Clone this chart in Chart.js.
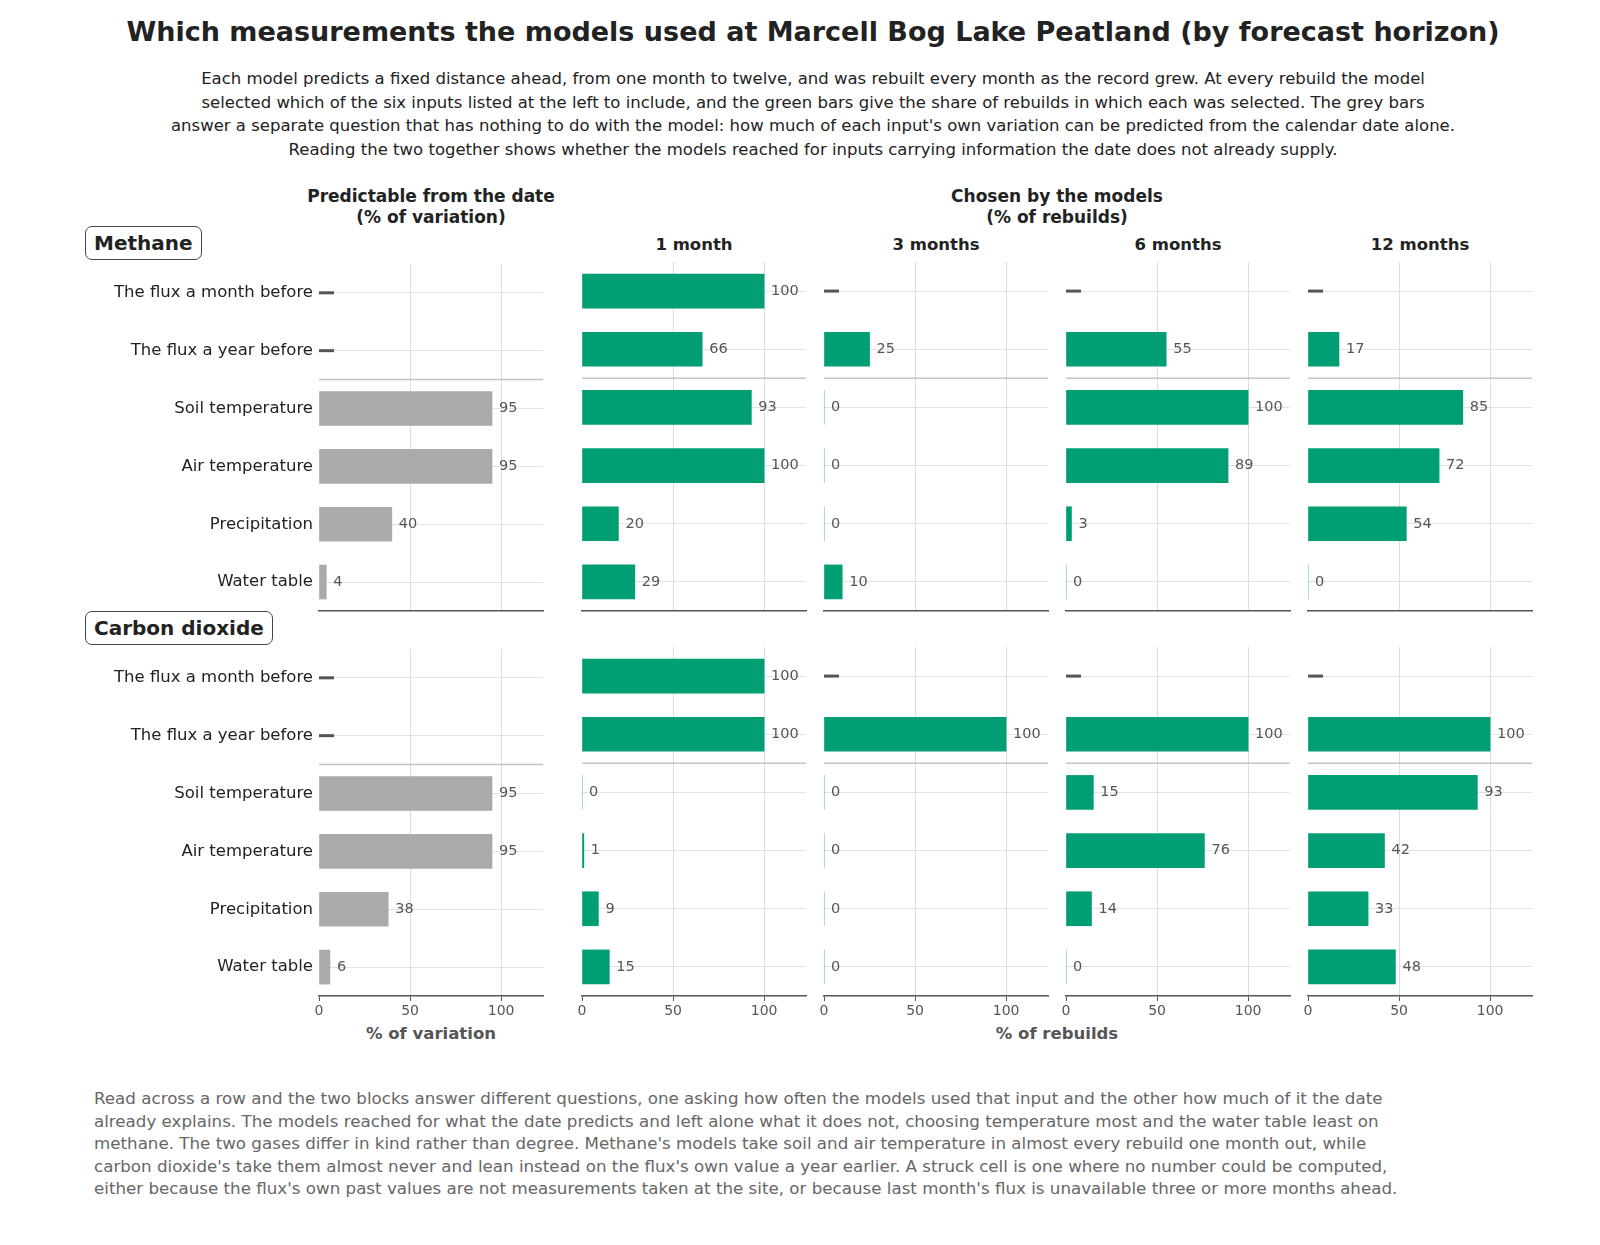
<!DOCTYPE html>
<html>
<head>
<meta charset="utf-8">
<script src="https://cdn.jsdelivr.net/npm/chart.js@4/dist/chart.umd.min.js"></script>
<style>
body { margin:0; width:1600px; height:1245px; background:#fff; font-family:"DejaVu Sans",sans-serif; position:relative; overflow:hidden; }
.abs { position:absolute; }
canvas { position:absolute; }
#title { left:0; width:1626px; top:16px; text-align:center; font-size:27px; font-weight:bold; color:#222; }
#sub { left:170px; width:1286px; top:67px; text-align:center; font-size:16.5px; line-height:23.5px; color:#222; }
.hdr { font-size:17px; font-weight:bold; color:#222; text-align:center; line-height:21px; }
.col { font-size:16.5px; font-weight:bold; color:#222; text-align:center; width:224px; top:235px; }
.box { border:1.5px solid #444; border-radius:7px; font-size:20px; font-weight:bold; color:#222; padding:4px 8px; }
.axt { font-size:16.5px; font-weight:bold; color:#555; text-align:center; top:1024px; }
#foot { left:94px; width:1335px; top:1087px; font-size:16.7px; line-height:22.6px; color:#666; }
</style>
</head>
<body>
<div id="title" class="abs">Which measurements the models used at Marcell Bog Lake Peatland (by forecast horizon)</div>
<div id="sub" class="abs">Each model predicts a fixed distance ahead, from one month to twelve, and was rebuilt every month as the record grew. At every rebuild the model selected which of the six inputs listed at the left to include, and the green bars give the share of rebuilds in which each was selected. The grey bars answer a separate question that has nothing to do with the model: how much of each input's own variation can be predicted from the calendar date alone. Reading the two together shows whether the models reached for inputs carrying information the date does not already supply.</div>
<div class="abs hdr" style="left:281px;width:300px;top:186px">Predictable from the date<br>(% of variation)</div>
<div class="abs hdr" style="left:907px;width:300px;top:186px">Chosen by the models<br>(% of rebuilds)</div>
<div class="abs col" style="left:582px">1 month</div>
<div class="abs col" style="left:824px">3 months</div>
<div class="abs col" style="left:1066px">6 months</div>
<div class="abs col" style="left:1308px">12 months</div>
<div class="abs box" style="left:85px;top:226px">Methane</div>
<div class="abs box" style="left:85px;top:611px">Carbon dioxide</div>
<div class="abs axt" style="left:281px;width:300px">% of variation</div>
<div class="abs axt" style="left:907px;width:300px">% of rebuilds</div>
<div id="foot" class="abs">Read across a row and the two blocks answer different questions, one asking how often the models used that input and the other how much of it the date already explains. The models reached for what the date predicts and left alone what it does not, choosing temperature most and the water table least on methane. The two gases differ in kind rather than degree. Methane's models take soil and air temperature in almost every rebuild one month out, while carbon dioxide's take them almost never and lean instead on the flux's own value a year earlier. A struck cell is one where no number could be computed, either because the flux's own past values are not measurements taken at the site, or because last month's flux is unavailable three or more months ahead.</div>
<script>
// inputs (rows)
const inputs = ['The flux a month before', 'The flux a year before', 'Soil temperature', 'Air temperature', 'Precipitation', 'Water table'];
const xTicks = [0, 50, 100];

// methane
const ch4Date = [null, null, 95, 95, 40, 4];
const ch4M1 = [100, 66, 93, 100, 20, 29];
const ch4M3 = [null, 25, 0, 0, 0, 10];
const ch4M6 = [null, 55, 100, 89, 3, 0];
const ch4M12 = [null, 17, 85, 72, 54, 0];

// carbon dioxide
const co2Date = [null, null, 95, 95, 38, 6];
const co2M1 = [100, 100, 0, 1, 9, 15];
const co2M3 = [null, 100, 0, 0, 0, 0];
const co2M6 = [null, 100, 15, 76, 14, 0];
const co2M12 = [null, 100, 93, 42, 33, 48];

const GREEN = '#009e73', GREY = '#aaaaaa';
const plotLefts = [319, 582, 824, 1066, 1308];
const plotTops = [262, 647];
const PW = 224, PH = 349, TOP = 14;

// value labels, struck dashes, separator
const extras = {
    id: 'extras',
    beforeDatasetsDraw(chart) {
        const c = chart.ctx, a = chart.chartArea, y = chart.scales.y;
        const sep = (y.getPixelForValue(1) + y.getPixelForValue(2)) / 2;
        c.save();
        c.strokeStyle = '#c4c4c4'; c.lineWidth = 1.5;
        c.beginPath(); c.moveTo(a.left, sep); c.lineTo(a.right, sep); c.stroke();
        c.restore();
    },
    afterDatasetsDraw(chart) {
        const c = chart.ctx, x = chart.scales.x, y = chart.scales.y;
        const vals = chart.data.datasets[0].data;
        c.save();
        c.font = '14.5px "DejaVu Sans"'; c.textBaseline = 'middle';
        vals.forEach((v, i) => {
            const py = y.getPixelForValue(i);
            if (v === null) {
                c.strokeStyle = '#555'; c.lineWidth = 3;
                c.beginPath(); c.moveTo(x.getPixelForValue(0), py); c.lineTo(x.getPixelForValue(0) + 15, py); c.stroke();
            } else {
                c.fillStyle = '#555';
                c.fillText(String(v), x.getPixelForValue(v) + 7, py);
            }
        });
        c.restore();
    }
};

function panel(data, colour, col, row) {
    const first = col === 0;
    const cv = document.createElement('canvas');
    const left = first ? 90 : plotLefts[col] - 20;
    const w = first ? (plotLefts[0] - 90) + PW + 20 : PW + 40;
    const h = TOP + PH + 45;
    cv.style.left = left + 'px';
    cv.style.top = (plotTops[row] - TOP) + 'px';
    cv.style.width = w + 'px'; cv.style.height = h + 'px';
    cv.width = w; cv.height = h;
    document.body.appendChild(cv);

    new Chart(cv.getContext('2d'), {
        type: 'bar',
        data: { labels: inputs, datasets: [{ data: data, backgroundColor: colour, barThickness: 34 }] },
        options: {
            indexAxis: 'y', responsive: false, animation: false,
            layout: { padding: { left: first ? 0 : 20, right: 20, top: TOP, bottom: 0 } },
            plugins: { legend: { display: false }, tooltip: { enabled: false } },
            scales: {
                x: {
                    min: 0, max: 123,
                    afterBuildTicks: s => { s.ticks = xTicks.map(v => ({ value: v })); },
                    afterFit: s => { s.height = 45; },
                    grid: {
                        color: ctx => (ctx.tick && ctx.tick.value === 0) ? 'rgba(0,0,0,0)' : '#dddddd',
                        drawTicks: true, tickLength: 5,
                        tickColor: row ? '#555' : 'rgba(0,0,0,0)'
                    },
                    border: { color: '#555', width: 1.5 },
                    ticks: { color: row ? '#555' : 'rgba(0,0,0,0)', font: { size: 14, family: 'DejaVu Sans' }, padding: 2, maxRotation: 0 }
                },
                y: {
                    afterFit: s => { s.width = first ? plotLefts[0] - 90 : 0; },
                    grid: { offset: false, color: '#e2e2e2', drawTicks: false },
                    border: { display: false },
                    ticks: { display: first, color: '#222', font: { size: 16.5, family: 'DejaVu Sans' }, padding: 6 }
                }
            }
        },
        plugins: [extras]
    });
}

[[ch4Date, ch4M1, ch4M3, ch4M6, ch4M12], [co2Date, co2M1, co2M3, co2M6, co2M12]].forEach((set, row) => {
    set.forEach((d, col) => panel(d, col === 0 ? GREY : GREEN, col, row));
});
</script>
</body>
</html>
